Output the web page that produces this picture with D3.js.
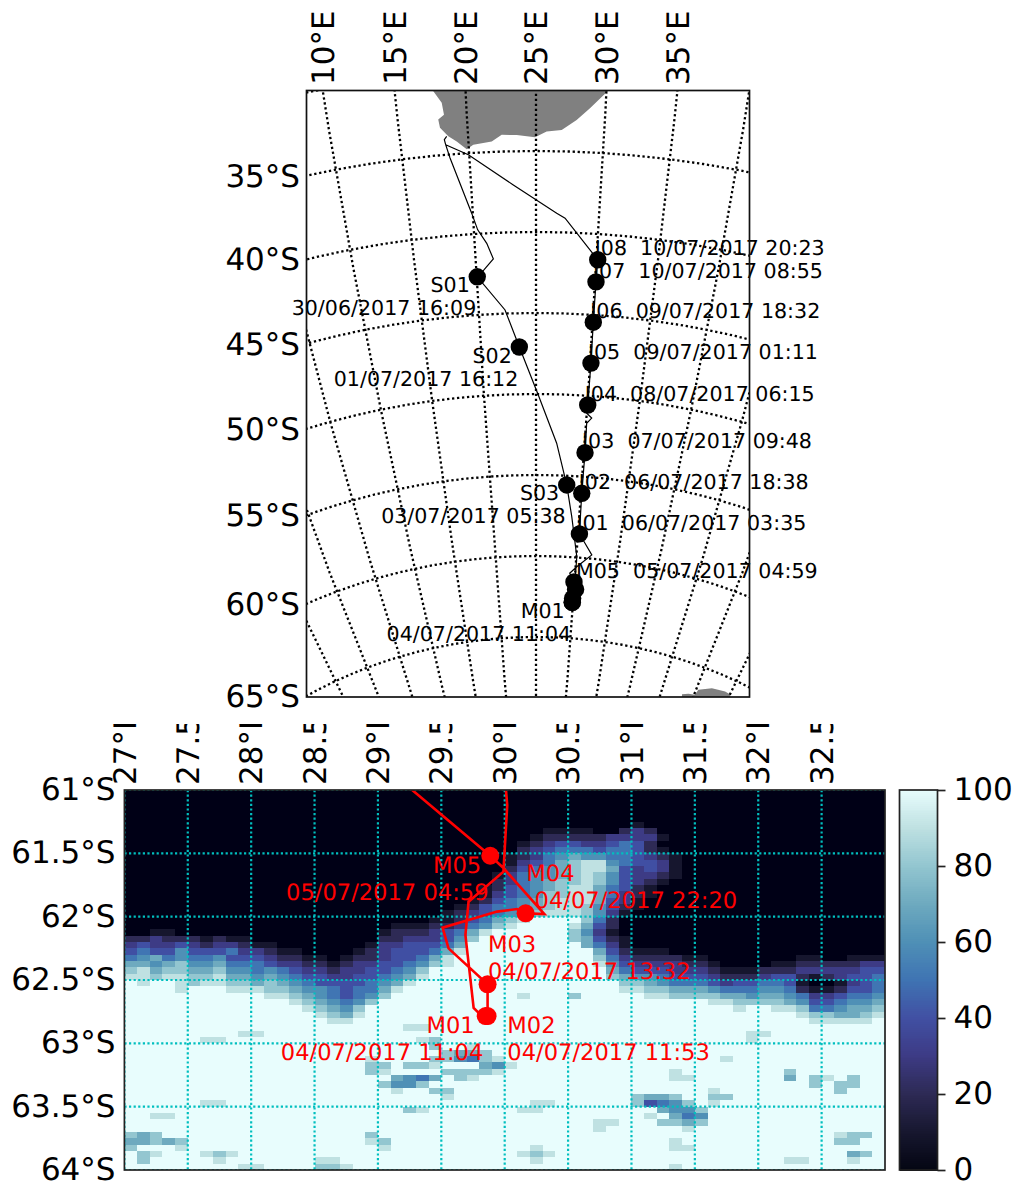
<!DOCTYPE html>
<html>
<head>
<meta charset="utf-8">
<script src="https://cdn.jsdelivr.net/npm/d3@7"></script>
<style>
body { margin: 0; background: #fff; }
text { font-family: "DejaVu Sans", sans-serif; white-space: pre; text-rendering: geometricPrecision; }
</style>
</head>
<body>
<div id="chart"></div>
<script>
// ship stations
var stationNames = ["S01", "S02", "S03", "M01", "M02", "M03", "M04", "M05", "J01", "J02", "J03", "J04", "J05", "J06", "J07", "J08"];
var stationTimes = ["30/06/2017 16:09", "01/07/2017 16:12", "03/07/2017 05:38", "04/07/2017 11:04", "04/07/2017 11:53", "04/07/2017 13:32", "04/07/2017 22:20", "05/07/2017 04:59", "06/07/2017 03:35", "06/07/2017 18:38", "07/07/2017 09:48", "08/07/2017 06:15", "09/07/2017 01:11", "09/07/2017 18:32", "10/07/2017 08:55", "10/07/2017 20:23"];
var stationLon = [20.08, 23.49, 28.35, 29.85, 29.865, 29.865, 30.165, 29.886, 30.12, 30.05, 30.09, 30.03, 30.07, 30.04, 30.05, 30.08];
var stationLat = [-42.65, -47.09, -55.57, -62.785, -62.785, -62.534, -61.974, -61.519, -58.54, -56.03, -53.52, -50.57, -47.98, -45.45, -42.96, -41.59];

// ship track, Cape Town - ice edge - Cape Town
var trackLon = [18.44, 18.25, 18.32, 18.57, 19.94, 20.34, 21.01, 21.49, 20.67, 20.08, 22.31, 23.49, 25.22, 27.12, 28.35, 29.1, 30.01, 30.01, 30.02, 29.99, 29.715, 29.69, 29.755, 29.785, 29.85, 29.865, 29.865, 29.557, 29.51, 29.94, 30.097, 30.165, 30.313, 29.99, 29.886, 29.27, 30.1, 31.82, 30.75, 30.12, 30.05, 30.09, 30.05, 30.51, 29.99, 30.03, 30.07, 30.04, 30.05, 30.08, 27.3, 26.63, 23.26, 19.95, 18.32];
var trackLat = [-33.87, -34.06, -34.38, -35.22, -38.71, -39.76, -40.62, -41.6, -42.25, -42.65, -44.78, -47.09, -50.06, -53.02, -55.57, -57.51, -59.96, -61.0, -61.12, -61.645, -61.882, -62.145, -62.72, -62.75, -62.785, -62.785, -62.534, -62.25, -62.087, -61.96, -61.94, -61.974, -61.98, -61.616, -61.519, -61.0, -60.57, -59.77, -59.0, -58.54, -56.03, -53.52, -51.7, -51.36, -51.08, -50.57, -47.98, -45.45, -42.96, -41.59, -39.12, -38.83, -37.08, -35.1, -34.38];

// land outlines
var africaLon = [17.73, 18.26, 18.36, 17.92, 18.0, 18.56, 19.15, 19.85, 20.36, 21.73, 22.48, 23.58, 24.93, 25.78, 26.88, 27.95, 28.88, 30.06, 32, 17];
var africaLat = [-31.03, -31.79, -32.53, -32.8, -33.31, -33.88, -34.23, -34.75, -34.5, -34.36, -33.97, -34.0, -34.15, -33.8, -33.68, -33.04, -32.28, -31.19, -29, -29];
var antarcticaLon = [48.2, 49.1, 50.1, 50.3, 52.1, 54.1, 55, 55.5, 48.6];
var antarcticaLat = [-67.0, -66.83, -66.76, -66.4, -66.0, -65.86, -65.9, -66.3, -67.45];

// tick labels
var mapLonTicks = [10, 15, 20, 25, 30, 35];
var mapLatTicks = [-35, -40, -45, -50, -55, -60, -65];
var iceLonTicks = [27, 27.5, 28, 28.5, 29, 29.5, 30, 30.5, 31, 31.5, 32, 32.5];
var iceLatTicks = [-61, -61.5, -62, -62.5, -63, -63.5, -64];
var cbarTicks = [0, 20, 40, 60, 80, 100];

// colormap of the colorbar
var iceStops = [0, 10, 20, 30, 40, 50, 60, 70, 80, 90, 100];
var iceColors = ["#040613", "#17172f", "#2d2a55", "#3d3b85", "#4150a3", "#3f74b3", "#4f90b6", "#6eaabf", "#93c6d0", "#bfe1e2", "#e8fdfd"];

// sea ice concentration, one char per 0.1 lon x 0.05 lat cell, from 27E 61S
// 0-9 = 0-90 %, a = 100 %
var iceRows = [
  "0000000000 0000000000 0000000000 0000000000 0000000000 0000000000",
  "0000000000 0000000000 0000000000 0000000000 0000000000 0000000000",
  "0000000000 0000000000 0000000000 0000000000 0000000000 0000000000",
  "0000000000 0000000000 0000000000 0000000000 0000000000 0000000000",
  "0000000000 0000000000 0000000000 0000000000 0000000000 0000000000",
  "0000000000 0000000000 0000000000 0000000000 1000000000 0000000000",
  "0000000000 0000000000 0000000000 0001111002 3200000000 0000000000",
  "0000000000 0000000000 0000000000 0012222233 3310000000 0000000000",
  "0000000000 0000000000 0000000000 0123443345 4200000000 0000000000",
  "0000000000 0000000000 0000000000 0234555455 4210000000 0000000000",
  "0000000000 0000000000 0000000000 1235676655 4321000000 0000000000",
  "0000000000 0000000000 0000000000 1345789965 4431000000 0000000000",
  "0000000000 0000000000 0000000000 2456789974 3431000000 0000000000",
  "0000000000 0000000000 0000000001 3566789864 3321000000 0000000000",
  "0000000000 0000000000 0000000002 3567889864 3210000000 0000000000",
  "0000000000 0000000000 0000000012 4567899754 2100000000 0000000000",
  "0000000000 0000000000 0000000013 4568899753 2100000000 0000000000",
  "0000000000 0000000000 0000000124 5678999743 1000000000 0000000000",
  "0000000000 0000000000 0000001245 5678998642 1000000000 0000000000",
  "0000000000 0000000000 0000012345 6789998631 0000000000 0000000000",
  "0000000000 0000000000 0000112457 89aaaa8520 0000000000 0000000000",
  "0000000000 0000000000 0111223568 9aaaa97420 0000000000 0000000000",
  "0011000000 0000000000 122234579a aaaaa86310 0000000000 0000000000",
  "2232221211 0000000000 22333468aa aaaaa87421 0000000000 0000000000",
  "3433432332 1100000001 3344457aaa aaaaaa7531 0000000000 0000000000",
  "4544644453 3211000012 3444579aaa aaaaaaa742 1110000000 0000000000",
  "5675655644 4322110122 344579aaaa aaaaaaa853 2222110000 0001100111",
  "7767866755 5433221233 445689aaaa aaaaaaa964 3333221000 0112222233",
  "8978877866 5654332334 4568aaaaaa aaaaaaaa75 4443332111 2223333344",
  "9989988977 6765443344 5679aaaaaa aaaaaaaa87 6654443222 3442123445",
  "a9aa989988 7876544445 679aaaaaaa aaaaaaaaa8 8765554344 5541001345",
  "aaaa9aaa99 9887665455 79aaaaaaaa aaaaaaaaa9 9887776555 6652112445",
  "aaaaaaaaaa a998765456 8aaaaaaaaa a9aaa8aaaa a998888776 7765334556",
  "aaaaaaaaaa aaa9876568 aaaaaaaaaa aaaaaaaaaa aaaaaa9988 8876445667",
  "aaaaaaaaaa aaaa98768a aaaaaaaaaa aaaaaaaaaa aaaaaaaa9a a998556778",
  "aaaaaaaaaa aaaaa9879a aaaaaaaaaa aaaaaaaaaa aaaaaaaaaa aaa9887789",
  "aaaaaaaaaa aaaaaa99aa aaaaaaaaaa aaaaaaaaaa aaaaaaaaaa aaaa99999a",
  "aaaaaaaaaa aaaaaaaaaa aa99aaaaaa aaaaaaaaaa aaaaaaaaaa aaaaaaaaaa",
  "aaaaaaaaa9 9aaaaaaaaa aaaaaaaaaa aaaaaaaaaa aaaaaaaaa9 9aaaaaaaaa",
  "aaaaaa99aa aaaaaaaaaa aaa98aaaaa aaaaaaaaaa aaaaaaaaa9 aaaaaaaaaa",
  "aaaaaaaaaa aaaaaaaaaa aaaa8aa9aa aaaaaaaaaa aaaaaaaaaa aaaaaaaaaa",
  "aaaaaaaaaa aaaaaaaaaa aaaaa8778a aaaaaaaaaa aaaaaaaaaa aaaaaaaaaa",
  "aaaaaaaaaa aaaaaaaaa9 aaaa886589 aaaaaaaaaa aaaaaaa9aa aaaaaaaaaa",
  "aaaaaaaaaa aaaaaaaaa8 8a889aaa76 9aaaaaaaaa aaaaaaaaaa aaaaaaaaaa",
  "aaaaaaaaaa aaaaaaaaa8 9aaaa88889 aaaaaaaaaa aaa9aaaaaa aa8aaaaaaa",
  "aaaaaaaaaa aaaaaaaaaa a7657a89aa aaaaaaaaaa aaa99aaaaa aa7a89a8aa",
  "aaaaaaaaaa aaaaaaaaaa 8668aaaaaa aaaaaaaaaa aaaaaaaaaa aaaa8a88aa",
  "aaaaaaaaaa aaaaaaaaaa a9aa88aaaa aaaaaaaaaa aaaaaa9aaa aaaaaa8aaa",
  "aaaaaaaaaa aaaaaaaaaa aaaaa9aaaa aaaaaaaaaa 8778aa88aa aaaaaaaaaa",
  "aaaaaa99aa aaaaaaaaaa aaaaaaaaaa aa99aaaaaa 84568a9aaa aaaaaaaaaa",
  "aaaaaaaaaa aaaaaaaaaa aa89aaaaaa a99aaaaaaa aa7668aaaa aaaaaaaaaa",
  "aa99aaaaaa aaaaaaaaaa aaaaaaaaaa aaaaaaaaaa a9a756aaaa aaaaaaaaaa",
  "aaaaaaaaaa aaaaaaaaaa aaaaaaaaaa aaaaaaa99a aa8878aaaa aaaaaaaaaa",
  "aaaaaaaaaa aaaaaaaaaa aaaaaaaaaa aaaaaaa9aa aaaa9aaaaa aaaaaaaaaa",
  "878aaaaaaa aaaaaaaaa8 aaaaaaaaaa aaaaaaaaaa aaaaaaaaaa aaaaaa988a",
  "77878aaaaa aaaaaaaaa9 8aaaaaaaaa aaaaaaaaaa aaa9aaaaaa aaaaaa88aa",
  "8aaa9aaaaa aaaaaaaaaa 9aaaaaaaaa aa9aaaaaaa aaa99aaaaa aaaaaaaaaa",
  "a89aaa989a aaaaaaaaaa aaaaaaaaaa a989aaaaaa aaaaaaaaaa aaaaaaa78a",
  "a8aaaaa9aa aaaaa99aaa aaaaaaaaaa aa9aaaaaaa aaaaaaaaaa aa99aaa9aa",
  "aaaaaaaaa9 9aaaa889aa aaaaaaaaaa aaaaaaaaaa aaa9aaaaaa aaaaaaaaaa"
];

var width = 1016;
var height = 1186;
var mapBox = { left: 306.5, right: 749.5, top: 90.5, bottom: 697 };
var iceBox = { left: 124.4, right: 885, top: 790, bottom: 1170 };
var cbarBox = { left: 899.5, right: 937.5, top: 790, bottom: 1170 };
var axisFont = 31;

var svg = d3.select("#chart").append("svg").attr("width", width).attr("height", height);

var defs = svg.append("defs");
defs.append("clipPath").attr("id", "mapClip").append("rect")
  .attr("x", mapBox.left).attr("y", mapBox.top)
  .attr("width", mapBox.right - mapBox.left).attr("height", mapBox.bottom - mapBox.top);
defs.append("clipPath").attr("id", "iceClip").append("rect")
  .attr("x", iceBox.left).attr("y", iceBox.top)
  .attr("width", iceBox.right - iceBox.left).attr("height", iceBox.bottom - iceBox.top);
// the longitude labels of the lower panel are cut off at the top
defs.append("clipPath").attr("id", "lonLabelClip").append("rect")
  .attr("x", 0).attr("y", 724).attr("width", width).attr("height", 100);
// the raster looks slightly smoothed in the reference
defs.append("filter").attr("id", "soften").append("feGaussianBlur").attr("stdDeviation", 0.7);

var stations = stationNames.map(function(name, i) {
  return { name: name, time: stationTimes[i], lon: stationLon[i], lat: stationLat[i] };
});
var track = trackLon.map(function(lon, i) { return [lon, trackLat[i]]; });

// ---- upper panel, azimuthal equidistant map centred on 25E 50S ----
var projection = d3.geoAzimuthalEquidistant()
  .rotate([-25, 50])
  .scale(928.2)
  .translate([536, 394]);
var geoPath = d3.geoPath(projection);

function ring(lons, lats) {
  return lons.map(function(lon, i) { return projection([lon, lats[i]]); });
}
var polyLine = d3.line();

var mapG = svg.append("g").attr("clip-path", "url(#mapClip)");

mapG.selectAll("path.land")
  .data([ring(africaLon, africaLat), ring(antarcticaLon, antarcticaLat)])
  .enter().append("path")
  .attr("class", "land")
  .attr("d", function(d) { return polyLine(d) + "Z"; })
  .attr("fill", "#808080");

var graticule = d3.geoGraticule().extent([[-60, -85], [110, -15]]).step([5, 5]);
mapG.append("path")
  .attr("d", geoPath(graticule()))
  .attr("fill", "none")
  .attr("stroke", "#000")
  .attr("stroke-width", 2.3)
  .attr("stroke-dasharray", "2.3 2.7");

mapG.append("path")
  .attr("d", polyLine(track.map(function(d) { return projection(d); })))
  .attr("fill", "none")
  .attr("stroke", "#000")
  .attr("stroke-width", 1.2);

// labels on the map, they may run past the frame
var mapLabels = svg.append("g").attr("font-size", 20.6).attr("fill", "#000");
stations.forEach(function(s) {
  var p = projection([s.lon, s.lat]);
  if (s.name[0] === "J" || s.name === "M05") {
    mapLabels.append("text")
      .attr("x", p[0] + (s.name === "M05" ? 2 : -3))
      .attr("y", p[1] - 4.3)
      .text(s.name + "  " + s.time);
  } else if (s.name[0] === "S" || s.name === "M01") {
    mapLabels.append("text")
      .attr("x", p[0] - 7.5).attr("y", p[1] + 15.5)
      .attr("text-anchor", "end").text(s.name);
    mapLabels.append("text")
      .attr("x", p[0] - 1).attr("y", p[1] + 38.5)
      .attr("text-anchor", "end").text(s.time);
  }
});

svg.append("g").selectAll("circle")
  .data(stations)
  .enter().append("circle")
  .attr("cx", function(d) { return projection([d.lon, d.lat])[0]; })
  .attr("cy", function(d) { return projection([d.lon, d.lat])[1]; })
  .attr("r", 8.7)
  .attr("fill", "#000");

svg.append("rect")
  .attr("x", mapBox.left).attr("y", mapBox.top)
  .attr("width", mapBox.right - mapBox.left).attr("height", mapBox.bottom - mapBox.top)
  .attr("fill", "none").attr("stroke", "#111").attr("stroke-width", 1.7);

// where a parallel hits the left edge
function leftCrossing(lat) {
  var lo = -40, hi = 25;
  for (var i = 0; i < 40; i++) {
    var mid = (lo + hi) / 2;
    if (projection([mid, lat])[0] < mapBox.left) { lo = mid; } else { hi = mid; }
  }
  return projection([lo, lat])[1];
}
// where a meridian hits the top edge
function topCrossing(lon) {
  var lo = -50, hi = -10;
  for (var i = 0; i < 40; i++) {
    var mid = (lo + hi) / 2;
    if (projection([lon, mid])[1] > mapBox.top) { lo = mid; } else { hi = mid; }
  }
  return projection([lon, lo])[0];
}

svg.append("g").selectAll("text")
  .data(mapLatTicks)
  .enter().append("text")
  .attr("x", 300)
  .attr("y", function(d) { return leftCrossing(d); })
  .attr("dy", "0.36em")
  .attr("text-anchor", "end")
  .attr("font-size", axisFont)
  .text(function(d) { return Math.abs(d) + "°S"; });

svg.append("g").selectAll("text")
  .data(mapLonTicks)
  .enter().append("text")
  .attr("transform", function(d) { return "translate(" + topCrossing(d) + ",85) rotate(-90)"; })
  .attr("dy", "0.36em")
  .attr("font-size", axisFont)
  .text(function(d) { return d + "°E"; });

// ---- lower panel, sea ice ----
var xIce = d3.scaleLinear().domain([27, 33]).range([iceBox.left, iceBox.right]);
var yIce = d3.scaleLinear().domain([-61, -64]).range([iceBox.top, iceBox.bottom]);
var colorIce = d3.scaleLinear().domain(iceStops).range(iceColors);

var iceCells = [];
iceRows.forEach(function(row, r) {
  row.replace(/ /g, "").split("").forEach(function(ch, c) {
    iceCells.push({ lon: 27 + c * 0.1, lat: -61 - r * 0.05, value: parseInt(ch, 11) * 10 });
  });
});

var iceG = svg.append("g").attr("clip-path", "url(#iceClip)");

iceG.append("g")
  .attr("filter", "url(#soften)")
  .selectAll("rect")
  .data(iceCells)
  .enter().append("rect")
  .attr("x", function(d) { return xIce(d.lon); })
  .attr("y", function(d) { return yIce(d.lat); })
  .attr("width", xIce(27.1) - xIce(27) + 0.5)
  .attr("height", yIce(-61.05) - yIce(-61) + 0.5)
  .attr("shape-rendering", "crispEdges")
  .attr("fill", function(d) { return colorIce(d.value); });

// gridlines
iceG.selectAll("line.lon")
  .data(iceLonTicks)
  .enter().append("line")
  .attr("class", "lon")
  .attr("x1", function(d) { return xIce(d); })
  .attr("x2", function(d) { return xIce(d); })
  .attr("y1", iceBox.top).attr("y2", iceBox.bottom);
iceG.selectAll("line.lat")
  .data(iceLatTicks)
  .enter().append("line")
  .attr("class", "lat")
  .attr("x1", iceBox.left).attr("x2", iceBox.right)
  .attr("y1", function(d) { return yIce(d); })
  .attr("y2", function(d) { return yIce(d); });
iceG.selectAll("line")
  .attr("stroke", "#00bfbf")
  .attr("stroke-width", 2.2)
  .attr("stroke-dasharray", "2.2 2.4");

iceG.append("path")
  .attr("d", d3.line()
    .x(function(d) { return xIce(d[0]); })
    .y(function(d) { return yIce(d[1]); })(track))
  .attr("fill", "none")
  .attr("stroke", "#f00")
  .attr("stroke-width", 2.6);

var iceMarks = stations.filter(function(s) { return s.name[0] === "M"; });

iceG.selectAll("circle")
  .data(iceMarks)
  .enter().append("circle")
  .attr("cx", function(d) { return xIce(d.lon); })
  .attr("cy", function(d) { return yIce(d.lat); })
  .attr("r", 9)
  .attr("fill", "#f00");

// name and time placement around each marker
var iceLabelOffsets = {
  M01: { anchor: "end", nameX: -11, nameY: 17.3, timeX: -2.3, timeY: 44 },
  M02: { anchor: "start", nameX: 19.7, nameY: 17.3, timeX: 19.7, timeY: 44 },
  M03: { anchor: "start", nameX: 0.4, nameY: -32.6, timeX: 0.4, timeY: -5 },
  M04: { anchor: "start", nameX: 0.7, nameY: -32.3, timeX: 9, timeY: -5 },
  M05: { anchor: "end", nameX: -9, nameY: 17.6, timeX: -1.7, timeY: 44.3 }
};
var iceLabels = svg.append("g").attr("font-size", 22.6).attr("fill", "#f00");
iceMarks.forEach(function(s) {
  var off = iceLabelOffsets[s.name];
  iceLabels.append("text")
    .attr("x", xIce(s.lon) + off.nameX).attr("y", yIce(s.lat) + off.nameY)
    .attr("text-anchor", off.anchor).text(s.name);
  iceLabels.append("text")
    .attr("x", xIce(s.lon) + off.timeX).attr("y", yIce(s.lat) + off.timeY)
    .attr("text-anchor", off.anchor).text(s.time);
});

svg.append("rect")
  .attr("x", iceBox.left).attr("y", iceBox.top)
  .attr("width", iceBox.right - iceBox.left).attr("height", iceBox.bottom - iceBox.top)
  .attr("fill", "none").attr("stroke", "#222").attr("stroke-width", 1.7);

svg.append("g").selectAll("text")
  .data(iceLatTicks)
  .enter().append("text")
  .attr("x", 115.5)
  .attr("y", function(d) { return yIce(d) - 1; })
  .attr("dy", "0.36em")
  .attr("text-anchor", "end")
  .attr("font-size", axisFont)
  .text(function(d) { return Math.abs(d) + "°S"; });

svg.append("g").attr("clip-path", "url(#lonLabelClip)").selectAll("text")
  .data(iceLonTicks)
  .enter().append("text")
  .attr("transform", function(d) { return "translate(" + xIce(d) + ",785) rotate(-90)"; })
  .attr("dy", "0.36em")
  .attr("font-size", axisFont)
  .text(function(d) { return d + "°E"; });

// ---- colorbar ----
var yCbar = d3.scaleLinear().domain([0, 100]).range([cbarBox.bottom, cbarBox.top]);
svg.append("g").selectAll("rect")
  .data(d3.range(0, 100, 0.5))
  .enter().append("rect")
  .attr("x", cbarBox.left)
  .attr("y", function(d) { return yCbar(d + 0.5); })
  .attr("width", cbarBox.right - cbarBox.left)
  .attr("height", yCbar(0) - yCbar(0.5) + 0.5)
  .attr("shape-rendering", "crispEdges")
  .attr("fill", function(d) { return colorIce(d); });
svg.append("rect")
  .attr("x", cbarBox.left).attr("y", cbarBox.top)
  .attr("width", cbarBox.right - cbarBox.left).attr("height", cbarBox.bottom - cbarBox.top)
  .attr("fill", "none").attr("stroke", "#222").attr("stroke-width", 1.7);

var cbarAxis = svg.append("g")
  .attr("transform", "translate(" + cbarBox.right + ",0)")
  .call(d3.axisRight(yCbar).tickValues(cbarTicks).tickSize(8).tickPadding(8));
cbarAxis.select(".domain").remove();
cbarAxis.selectAll("line").attr("stroke", "#222").attr("stroke-width", 1.7);
cbarAxis.selectAll("text")
  .attr("font-size", axisFont)
  .attr("font-family", "DejaVu Sans")
  .attr("fill", "#000");
</script>
</body>
</html>
